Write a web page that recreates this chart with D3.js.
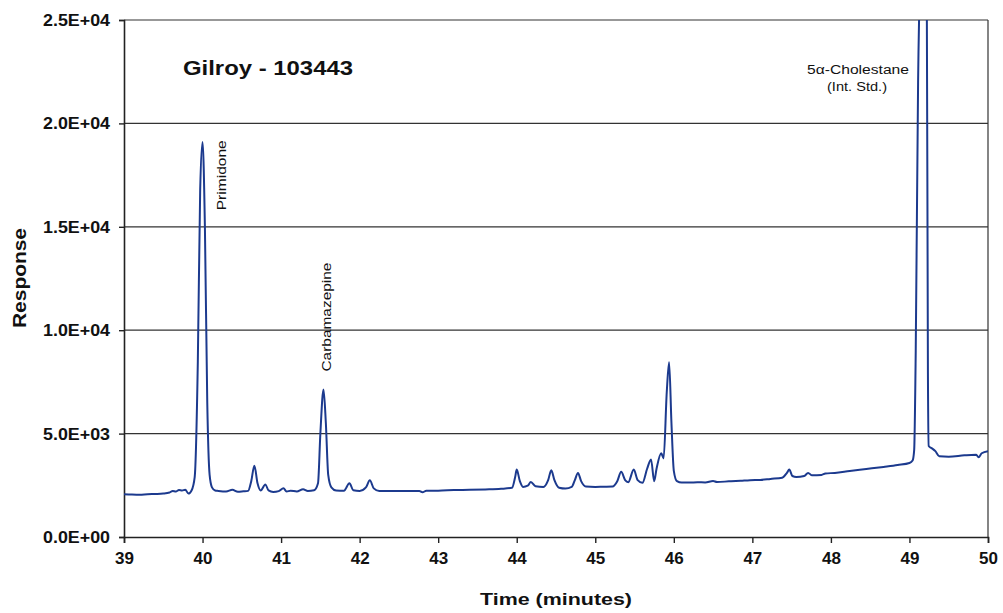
<!DOCTYPE html>
<html>
<head>
<meta charset="utf-8">
<script src="https://cdn.jsdelivr.net/npm/d3@7"></script>
<style>
  html, body { margin: 0; padding: 0; background: #fff; }
  svg { display: block; }
  text { font-family: "Liberation Sans", Arial, sans-serif; fill: #111; }
</style>
</head>
<body>
<svg id="chart" width="1003" height="613"></svg>
<script>
// ---- data ----
const times = [
  39.00, 39.10, 39.20, 39.30, 39.40, 39.50, 39.58, 39.62, 39.66, 39.70, 39.74, 39.78, 39.82, 39.86,
  39.90, 39.94, 39.97, 40.00, 40.03, 40.06, 40.09, 40.12, 40.16, 40.20, 40.30, 40.38, 40.45, 40.52,
  40.58, 40.62, 40.66, 40.70, 40.74, 40.80, 40.84, 40.90, 40.97, 41.03, 41.07, 41.12, 41.20, 41.28,
  41.34, 41.42, 41.47, 41.50, 41.54, 41.57, 41.60, 41.64, 41.70, 41.80, 41.87, 41.92, 42.00, 42.08,
  42.13, 42.18, 42.25, 42.40, 42.60, 42.76, 42.80, 42.85, 43.00, 43.20, 43.40, 43.60, 43.80, 43.94,
  43.98, 44.00, 44.04, 44.08, 44.14, 44.18, 44.24, 44.34, 44.40, 44.44, 44.48, 44.54, 44.62, 44.70,
  44.74, 44.78, 44.82, 44.88, 45.00, 45.10, 45.22, 45.28, 45.33, 45.38, 45.42, 45.49, 45.54, 45.60,
  45.66, 45.71, 45.75, 45.78, 45.84, 45.87, 45.91, 45.94, 45.97, 46.00, 46.04, 46.10, 46.20, 46.30,
  46.40, 46.50, 46.55, 46.70, 46.85, 46.97, 47.10, 47.23, 47.38, 47.44, 47.47, 47.51, 47.56, 47.66,
  47.71, 47.76, 47.88, 47.93, 48.05, 48.24, 48.45, 48.67, 48.85, 49.00, 49.04, 49.06, 49.08, 49.11,
  49.14, 49.18, 49.22, 49.235, 49.245, 49.28, 49.33, 49.38, 49.50, 49.70, 49.85, 49.88, 49.92, 50.00
];
const responses = [
  2070, 2050, 2040, 2070, 2080, 2100, 2150, 2230, 2200, 2270, 2250, 2290, 2100, 2250,
  2900, 8500, 16800, 19100, 15000, 6500, 3000, 2400, 2250, 2230, 2200, 2280, 2190, 2210,
  2230, 2700, 3450, 2600, 2250, 2540, 2250, 2180, 2220, 2360, 2200, 2240, 2200, 2310,
  2230, 2260, 2600, 5000, 7130, 5500, 3000, 2400, 2250, 2240, 2600, 2260, 2230, 2400,
  2740, 2350, 2220, 2230, 2220, 2220, 2160, 2240, 2240, 2270, 2280, 2300, 2330, 2380,
  2900, 3260, 2700, 2420, 2480, 2660, 2450, 2420, 2750, 3230, 2750, 2380, 2340, 2420,
  2750, 3100, 2700, 2440, 2420, 2430, 2440, 2700, 3150, 2750, 2650, 3260, 2750, 2620,
  3300, 3750, 2700, 3300, 4050, 3800, 7000, 8450, 5500, 3200, 2700, 2630, 2630, 2650,
  2640, 2710, 2660, 2690, 2720, 2750, 2760, 2810, 2870, 3100, 3260, 2950, 2900, 2950,
  3100, 2980, 3000, 3070, 3100, 3195, 3290, 3390, 3480, 3580, 3700, 4200, 9000, 22000,
  28000, 32000, 27000, 8000, 4400, 4300, 4150, 3900, 3880, 3950, 3980, 3860, 4050, 4150
];
const xTicks = [39, 40, 41, 42, 43, 44, 45, 46, 47, 48, 49, 50];
const yTicks = [0, 5000, 10000, 15000, 20000, 25000];
const yTickLabels = ["0.0E+00", "5.0E+03", "1.0E+04", "1.5E+04", "2.0E+04", "2.5E+04"];
const peakNames = ["Primidone", "Carbamazepine"];
const peakLabelTimes = [40.30, 41.64];
const peakLabelValues = [15800, 8000];
const titleText = "Gilroy - 103443";
const xTitle = "Time (minutes)";
const yTitle = "Response";
const stdLabel = ["5\u03b1-Cholestane", "(Int. Std.)"];

// ---- layout ----
const svg = d3.select("#chart");
const L = 124, R = 988, T = 20, B = 537;
const x = d3.scaleLinear().domain([39, 50]).range([L, R]);
const y = d3.scaleLinear().domain([0, 25000]).range([B, T]);
const axisColor = "#222";

// grid lines
svg.append("g").selectAll("line").data(yTicks.filter(d => d > 0)).join("line")
  .attr("x1", L).attr("x2", R)
  .attr("y1", d => y(d)).attr("y2", d => y(d))
  .attr("stroke", "#333").attr("stroke-width", 1.2);

// right border
svg.append("line").attr("x1", R).attr("x2", R).attr("y1", T).attr("y2", B)
  .attr("stroke", "#333").attr("stroke-width", 1.2);

// axes
const xAxis = d3.axisBottom(x).tickValues(xTicks).tickSize(6).tickPadding(9)
  .tickFormat(d3.format("d"));
const gx = svg.append("g").attr("transform", `translate(0,${B})`).call(xAxis);
gx.select(".domain").attr("stroke", axisColor).attr("stroke-width", 1.6);
gx.selectAll(".tick line").attr("stroke", axisColor).attr("stroke-width", 1.4);
gx.selectAll(".tick text").attr("font-size", 17).attr("font-weight", "bold")
  .attr("font-family", "Liberation Sans, Arial, sans-serif").attr("fill", "#111");

const yAxis = d3.axisLeft(y).tickValues(yTicks).tickSize(5).tickPadding(9)
  .tickFormat((d, i) => yTickLabels[i]);
const gy = svg.append("g").attr("transform", `translate(${L},0)`).call(yAxis);
gy.select(".domain").attr("stroke", axisColor).attr("stroke-width", 1.6);
gy.selectAll(".tick line").attr("stroke", axisColor).attr("stroke-width", 1.4);
gy.selectAll(".tick text").attr("font-size", 17).attr("font-weight", "bold")
  .attr("font-family", "Liberation Sans, Arial, sans-serif").attr("fill", "#111")
  .attr("textLength", 67).attr("lengthAdjust", "spacingAndGlyphs");

// clip
svg.append("clipPath").attr("id", "plotclip").append("rect")
  .attr("x", L).attr("y", T).attr("width", R - L).attr("height", B - T);

// line
const pts = times.map((t, i) => [t, responses[i]]);
const line = d3.line().x(d => x(d[0])).y(d => y(d[1])).curve(d3.curveMonotoneX);
svg.append("path").datum(pts)
  .attr("clip-path", "url(#plotclip)")
  .attr("d", line)
  .attr("fill", "none").attr("stroke", "#1c3a8e").attr("stroke-width", 2)
  .attr("stroke-linejoin", "round");

// title
svg.append("text").attr("x", 183).attr("y", 75)
  .attr("font-size", 20).attr("font-weight", "bold")
  .attr("textLength", 170).attr("lengthAdjust", "spacingAndGlyphs")
  .text(titleText);

// axis titles
svg.append("text").attr("x", 556).attr("y", 605).attr("text-anchor", "middle")
  .attr("font-size", 17).attr("font-weight", "bold")
  .attr("textLength", 152).attr("lengthAdjust", "spacingAndGlyphs")
  .text(xTitle);
svg.append("text").attr("transform", "translate(26,278) rotate(-90)")
  .attr("text-anchor", "middle")
  .attr("font-size", 18).attr("font-weight", "bold")
  .attr("textLength", 100).attr("lengthAdjust", "spacingAndGlyphs")
  .text(yTitle);

// peak labels (rotated)
const peakLens = [70, 109];
peakNames.forEach((name, i) => {
  const px = x(peakLabelTimes[i]);
  const py = y(peakLabelValues[i]);
  svg.append("text")
    .attr("transform", `translate(${px},${py}) rotate(-90)`)
    .attr("font-size", 12.5)
    .attr("textLength", peakLens[i]).attr("lengthAdjust", "spacingAndGlyphs")
    .text(name);
});

// internal standard label
svg.append("text").attr("x", 858).attr("y", 74).attr("text-anchor", "middle")
  .attr("font-size", 12.5).attr("textLength", 102).attr("lengthAdjust", "spacingAndGlyphs")
  .text(stdLabel[0]);
svg.append("text").attr("x", 857).attr("y", 91).attr("text-anchor", "middle")
  .attr("font-size", 12.5).attr("textLength", 60).attr("lengthAdjust", "spacingAndGlyphs")
  .text(stdLabel[1]);
</script>
</body>
</html>
